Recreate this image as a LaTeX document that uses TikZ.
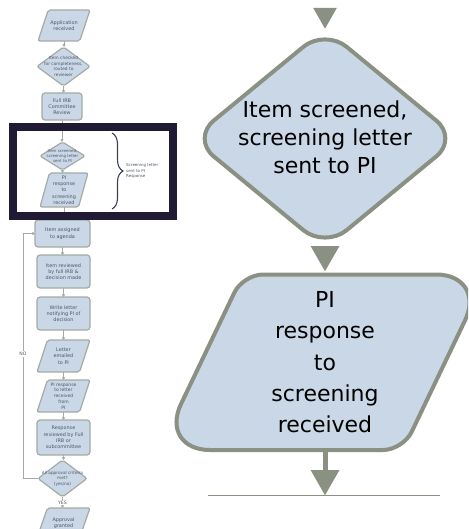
\documentclass[tikz,border=0pt]{standalone}
\usepackage{fontspec}
\newfontfamily\verd{DejaVu Sans}
\usetikzlibrary{shapes.geometric,arrows.meta,decorations.pathreplacing,calc}
\definecolor{shapefill}{HTML}{C9D7E7}
\definecolor{shapeline}{HTML}{8A9082}
\definecolor{thumbline}{HTML}{A4ABA4}
\definecolor{thumbtext}{HTML}{505766}
\definecolor{framecol}{HTML}{201A35}
\definecolor{bracecol}{HTML}{3A4050}
\begin{document}
\begin{tikzpicture}[x=1pt,y=-1pt,
  bigshape/.style={draw=shapeline, fill=shapefill, line width=4pt, line join=round},
  bigtext/.style={font=\verd\fontsize{22}{28}\selectfont, align=center, inner sep=0pt, text=black},
  bigarrow/.style={draw=shapeline, line width=5pt, -{Triangle[width=27.5pt,length=25.5pt]}},
  thumbbox/.style={draw=thumbline, fill=shapefill, line width=1.2pt, inner sep=2pt, outer sep=0pt},
  thumbrect/.style={thumbbox, rectangle, rounded corners=3pt},
  thumbdiam/.style={thumbbox, diamond, rounded corners=2pt},
  thumbpara/.style={thumbbox, trapezium, trapezium left angle=72, trapezium right angle=108, trapezium stretches=true, rounded corners=2pt},
  thumbtext/.style={font=\verd\fontsize{4.9}{6.3}\selectfont, text=thumbtext, align=center, inner sep=0pt},
  thumbarrow/.style={draw=thumbline, line width=0.9pt, -{Triangle[width=3.2pt,length=2.6pt]}},
  thumblabel/.style={font=\verd\fontsize{4.6}{6}\selectfont, text=thumbtext, fill=white, inner sep=0.8pt},
]
\useasboundingbox (0,0) rectangle (468,529);
\clip (0,0) rectangle (468,529);

% ---------- thumbnail flowchart ----------
\node[thumbpara, minimum width=52pt, minimum height=31pt] (t1) at (64,25.5) {};
\node[thumbtext] (t1x) at (t1) {Application\\received};
\node[thumbdiam, minimum width=53pt, minimum height=39pt] (t2) at (63.5,66.5) {};
\node[thumbtext, font=\verd\fontsize{4.3}{5.6}\selectfont] (t2x) at (t2) {Item checked\\for completeness,\\routed to\\reviewer};
\node[thumbrect, minimum width=40pt, minimum height=27pt] (t3) at (62,106.5) {};
\node[thumbtext] (t3x) at (t3) {Full IRB\\Committee\\Review};
\node[thumbdiam, minimum width=45pt, minimum height=28pt] (t4) at (62.5,156) {};
\node[thumbtext, font=\verd\fontsize{4}{5.2}\selectfont] (t4x) at (t4) {Item screened,\\screening letter\\sent to PI};
\node[thumbpara, minimum width=48pt, minimum height=34pt] (t5) at (64,190) {};
\node[thumbtext] (t5x) at (t5) {PI\\response\\to\\screening\\received};
\node[thumbrect, minimum width=55pt, minimum height=27pt] (t6) at (62.5,233.5) {};
\node[thumbtext] (t6x) at (t6) {Item assigned\\to agenda};
\node[thumbrect, minimum width=53pt, minimum height=33pt] (t7) at (63.5,271.5) {};
\node[thumbtext] (t7x) at (t7) {Item reviewed\\by full IRB \&\\decision made};
\node[thumbrect, minimum width=53pt, minimum height=33pt] (t8) at (63.5,313.5) {};
\node[thumbtext] (t8x) at (t8) {Write letter\\notifying PI of\\decision};
\node[thumbpara, minimum width=53pt, minimum height=32pt] (t9) at (63.5,356) {};
\node[thumbtext] (t9x) at (t9) {Letter\\emailed\\to PI};
\node[thumbpara, minimum width=53pt, minimum height=32pt] (t10) at (63.5,396) {};
\node[thumbtext, font=\verd\fontsize{4.5}{5.8}\selectfont] (t10x) at (t10) {PI response\\to letter\\received\\from\\PI};
\node[thumbrect, minimum width=53pt, minimum height=35pt] (t11) at (63.5,437.5) {};
\node[thumbtext] (t11x) at (t11) {Response\\reviewed by Full\\IRB or\\subcommittee};
\node[thumbdiam, minimum width=49pt, minimum height=37pt] (t12) at (62.5,478.5) {};
\node[thumbtext, font=\verd\fontsize{4.2}{5.6}\selectfont] (t12x) at (t12) {All approval criteria\\met?\\(yes/no)};
\node[thumbpara, minimum width=53pt, minimum height=30pt] (t13) at (63.5,523) {};
\node[thumbtext] (t13x) at (t13) {Approval\\granted};

\foreach \a/\b in {t1/t2,t2/t3,t3/t4,t4/t5,t5/t6,t6/t7,t7/t8,t8/t9,t9/t10,t10/t11,t11/t12}
  \draw[thumbarrow] (\a.south) -- (\a.south |- \b.north);
\draw[thumbarrow] (t12.south) -- node[thumblabel] (yes) {YES} (t12.south |- t13.north);
\draw[thumbarrow] (t12.west) -- ++(-15,0) |- (t6.west);
\node[thumblabel] (no) at (23,354) {NO};

\node[draw=framecol, line width=8pt, minimum width=159.5pt, minimum height=88.5pt, inner sep=0pt] (frame) at (92.75,171.75) {};
\coordinate (brtop) at (112,133);
\coordinate (brbot) at (112,209);
\draw[draw=bracecol, line width=1.1pt, decorate, decoration={brace, amplitude=11pt}] (brtop) -- (brbot);
\node[thumbtext, font=\verd\fontsize{4}{5.8}\selectfont, align=left, anchor=west] (brlabel) at (126,171) {Screening letter\\sent to PI\\Response};

% ---------- zoomed part ----------
\node[bigshape, diamond, minimum width=266pt, minimum height=219pt, inner sep=0pt, outer sep=0pt, rounded corners=28pt] (d) at (325,138.5) {};
\node[bigtext] (dt) at (325,136.8) {Item screened,\\screening letter\\sent to PI};
\coordinate (topin) at (325,8);
\draw[draw=shapeline, line width=5pt, -{Triangle[width=22pt,length=21pt]}] (topin) -- (d.north);

\draw[bigshape] (263,274.5) -- (436,274.5)
  .. controls (464.05,274.5) and (477.1,295.2) .. (465,320.5)
  -- (411.6,432)
  .. controls (406.9,441.9) and (394,450) .. (383,450)
  -- (210,450)
  .. controls (181.95,450) and (168.9,429.3) .. (181,404)
  -- (234.4,292.5)
  .. controls (239.1,282.6) and (252,274.5) .. (263,274.5) -- cycle;
\node[bigtext, font=\verd\fontsize{22}{31.3}\selectfont] (p) at (325,362.3) {PI\\response\\to\\screening\\received};

\coordinate (ptop) at (325,271.5);
\draw[bigarrow] (d.south) -- (ptop);

\coordinate (baseL) at (208,495.5);
\coordinate (baseR) at (440,495.5);
\draw[draw=shapeline, line width=1pt] (baseL) -- (baseR);
\coordinate (pbot) at (325,450);
\coordinate (stopp) at (325,495.5);
\draw[bigarrow] (pbot) -- (stopp);
\end{tikzpicture}
\end{document}
